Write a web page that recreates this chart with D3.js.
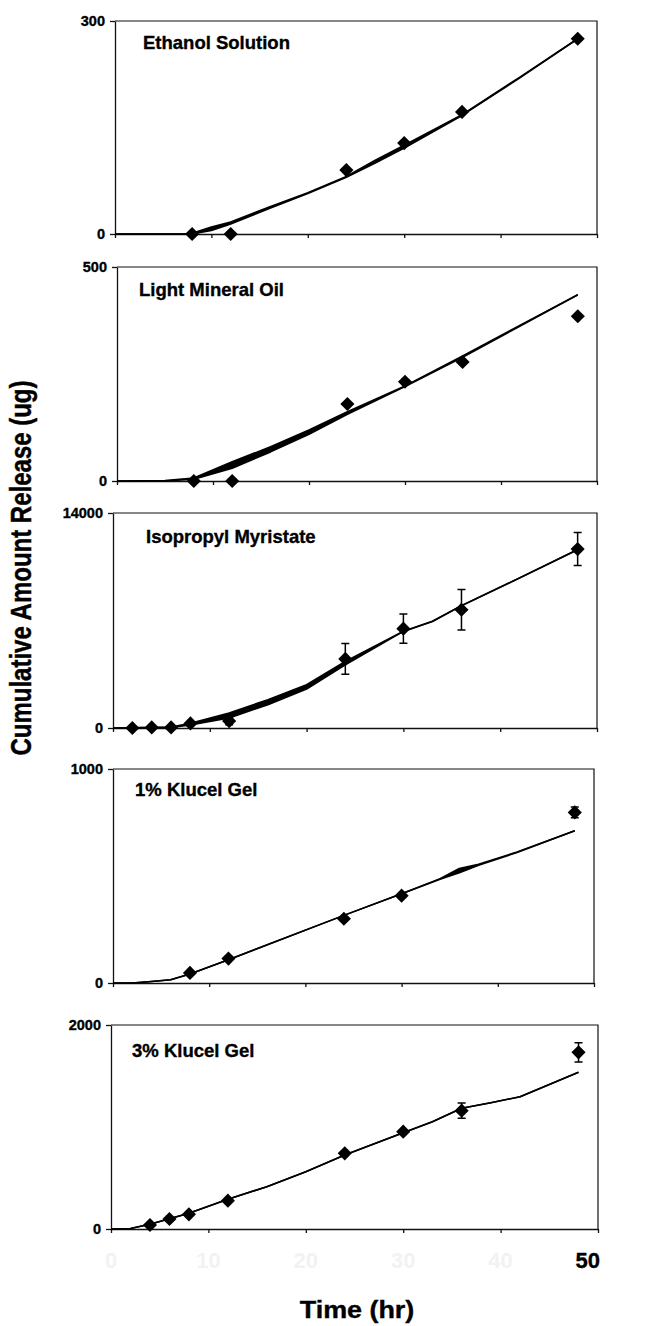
<!DOCTYPE html>
<html>
<head>
<meta charset="utf-8">
<script src="https://cdn.jsdelivr.net/npm/d3@7"></script>
<style>
  body { margin: 0; background: #fff; }
  svg { display: block; }
  text { font-family: "Liberation Sans", Arial, sans-serif; font-weight: bold; fill: #000; stroke: #000; stroke-width: 0.35px; }
</style>
</head>
<body>
<svg id="chart" width="651" height="1326"></svg>
<script>

// DATA //

const panelNames = ["Ethanol Solution", "Light Mineral Oil", "Isopropyl Myristate", "1% Klucel Gel", "3% Klucel Gel"];
const yMax = [300, 500, 14000, 1000, 2000];
const xTicks = [0, 10, 20, 30, 40, 50];

// measured points (time hr, amount ug, sd)
const ethanolT = [8, 12, 24, 30, 36, 48];
const ethanolY = [0, 0, 90, 128, 172, 275];
const ethanolErr = [0, 0, 0, 0, 0, 0];

const oilT = [8, 12, 24, 30, 36, 48];
const oilY = [0, 0, 180, 232, 278, 385];
const oilErr = [0, 0, 0, 0, 0, 0];

const ipmT = [2, 4, 6, 8, 12, 24, 30, 36, 48];
const ipmY = [0, 40, 40, 300, 450, 4500, 6470, 7700, 11650];
const ipmErr = [0, 0, 0, 100, 240, 1000, 950, 1325, 1075];

const k1T = [8, 12, 24, 30, 48];
const k1Y = [47, 114, 300, 408, 797];
const k1Err = [0, 0, 0, 0, 25];

const k3T = [4, 6, 8, 12, 24, 30, 36, 48];
const k3Y = [39, 98, 144, 278, 742, 954, 1160, 1732];
const k3Err = [0, 0, 0, 0, 0, 0, 75, 95];

// fitted curves (lower / upper edge of the drawn line)
const ethanolFitT = [0, 7, 8, 10, 12, 16, 20, 24, 27, 30, 36, 42, 48];
const ethanolFitLo = [0, 0, 0, 5, 14, 36, 57, 80, 100, 121, 167, 220, 275];
const ethanolFitHi = [0, 0, 1, 10, 17, 38, 58, 81, 104, 125, 168, 221, 275];

const oilFitT = [0, 5, 8, 12, 16, 20, 24, 30, 36, 42, 48];
const oilFitLo = [0, 0, 4, 30, 68, 109, 156, 221, 289, 362, 435];
const oilFitHi = [0, 1, 7, 45, 80, 119, 162, 222, 292, 364, 435];

const ipmFitT = [0, 6, 8, 12, 16, 20, 24, 30, 33, 36, 42, 48];
const ipmFitLo = [0, 40, 200, 650, 1520, 2540, 4120, 6290, 6940, 7960, 9765, 11610];
const ipmFitHi = [0, 60, 300, 980, 1845, 2820, 4340, 6300, 6950, 7970, 9775, 11620];

const k1FitT = [0, 2, 4, 6, 8, 12, 24, 30, 34, 36, 38, 42, 48];
const k1FitLo = [0, 0, 7, 15, 42, 109, 316, 417, 485, 515, 550, 610, 711];
const k1FitHi = [0, 0, 7, 15, 42, 109, 316, 417, 487, 535, 555, 612, 711];

const k3FitT = [0, 2, 4, 8, 12, 16, 20, 24, 30, 33, 36, 39, 42, 48];
const k3FitLo = [0, 5, 46, 154, 291, 415, 562, 725, 944, 1052, 1183, 1238, 1297, 1536];
const k3FitHi = [0, 5, 46, 154, 291, 415, 562, 725, 944, 1052, 1183, 1238, 1297, 1536];

// LAYOUT //

let frames = [
  { left: 115, right: 597, top: 21, bottom: 234 },
  { left: 117, right: 597, top: 267, bottom: 481 },
  { left: 113, right: 597, top: 513, bottom: 728 },
  { left: 113, right: 594, top: 769, bottom: 983 },
  { left: 111, right: 598, top: 1025, bottom: 1229 }
];
let titlePos = [[143, 49], [139, 296], [146, 543], [135, 796], [132, 1057]];

let points = [
  [ethanolT, ethanolY, ethanolErr],
  [oilT, oilY, oilErr],
  [ipmT, ipmY, ipmErr],
  [k1T, k1Y, k1Err],
  [k3T, k3Y, k3Err]
];
let fits = [
  [ethanolFitT, ethanolFitLo, ethanolFitHi],
  [oilFitT, oilFitLo, oilFitHi],
  [ipmFitT, ipmFitLo, ipmFitHi],
  [k1FitT, k1FitLo, k1FitHi],
  [k3FitT, k3FitLo, k3FitHi]
];

let svg = d3.select("#chart");
let diamond = d3.symbol().type(d3.symbolSquare).size(100);
let curve = d3.curveLinear;

panelNames.forEach((name, p) => {
  let f = frames[p];
  let x = d3.scaleLinear().domain([0, 50]).range([f.left, f.right]);
  let y = d3.scaleLinear().domain([0, yMax[p]]).range([f.bottom, f.top]);
  let g = svg.append("g");

  // frame top + right
  g.append("path")
    .attr("d", `M${f.left},${f.top}H${f.right}V${f.bottom}`)
    .attr("fill", "none")
    .attr("stroke", "#111")
    .attr("stroke-width", 1.2);

  // axes
  let yAxis = g.append("g")
    .attr("transform", `translate(${f.left},0)`)
    .call(d3.axisLeft(y).tickValues([0, yMax[p]]).tickFormat(d3.format("d"))
      .tickSize(5).tickSizeOuter(0).tickPadding(5));
  yAxis.selectAll("text")
    .attr("font-size", 14.5)
    .attr("font-family", "Liberation Sans, Arial, sans-serif")
    .attr("font-weight", "bold")
    .attr("fill", "#000");

  g.append("g")
    .attr("transform", `translate(0,${f.bottom})`)
    .call(d3.axisBottom(x).tickValues(xTicks).tickSize(4).tickSizeOuter(0).tickFormat(""));

  g.selectAll(".domain, .tick line")
    .attr("stroke", "#111")
    .attr("stroke-width", 1.3);

  // fitted curve
  let [ft, lo, hi] = fits[p];
  let fitData = ft.map((t, i) => ({ t: t, lo: lo[i], hi: hi[i] }));
  g.append("path")
    .datum(fitData)
    .attr("fill", "#000")
    .attr("d", d3.area().curve(curve)
      .x(d => x(d.t)).y0(d => y(d.lo)).y1(d => y(d.hi)));
  ["lo", "hi"].forEach(k => {
    g.append("path")
      .datum(fitData)
      .attr("fill", "none")
      .attr("stroke", "#000")
      .attr("stroke-width", 1.6)
      .attr("stroke-linejoin", "round")
      .attr("d", d3.line().curve(curve).x(d => x(d.t)).y(d => y(d[k])));
  });

  // points with error bars
  let [pt, py, pe] = points[p];
  let pts = pt.map((t, i) => ({ t: t, v: py[i], e: pe[i] }));
  g.selectAll(".err")
    .data(pts.filter(d => d.e > 0))
    .enter()
    .append("path")
    .classed("err", true)
    .attr("fill", "none")
    .attr("stroke", "#000")
    .attr("stroke-width", 1.5)
    .attr("d", d => {
      let cx = x(d.t), y1 = y(d.v + d.e), y2 = y(d.v - d.e);
      return `M${cx - 4},${y1}H${cx + 4}M${cx},${y1}V${y2}M${cx - 4},${y2}H${cx + 4}`;
    });

  g.selectAll(".pt")
    .data(pts)
    .enter()
    .append("path")
    .classed("pt", true)
    .attr("d", diamond)
    .attr("fill", "#000")
    .attr("transform", d => `translate(${x(d.t)},${y(d.v)}) rotate(45)`);

  // title
  g.append("text")
    .attr("x", titlePos[p][0])
    .attr("y", titlePos[p][1])
    .attr("font-size", 18.5)
    .text(name);

  // bottom panel tick labels (only 50 printed clearly)
  if (p == panelNames.length - 1) {
    g.selectAll(".xl")
      .data(xTicks)
      .enter()
      .append("text")
      .classed("xl", true)
      .attr("x", d => d == 50 ? x(d) + 2 : x(d))
      .attr("y", f.bottom + 39)
      .attr("text-anchor", d => d == 50 ? "end" : "middle")
      .attr("font-size", 22)
      .style("fill", d => d == 50 ? "#000" : "#f2f2f2")
      .style("stroke", d => d == 50 ? "#000" : "none")
      .text(d => d);
  }
});

// axis titles
svg.append("text")
  .attr("transform", "translate(31,568) scale(1.25,1) rotate(-90)")
  .attr("text-anchor", "middle")
  .attr("font-size", 24)
  .text("Cumulative Amount Release (ug)");

svg.append("text")
  .attr("transform", "translate(357,1318) scale(1.17,1)")
  .attr("text-anchor", "middle")
  .attr("font-size", 23)
  .text("Time (hr)");

</script>
</body>
</html>
